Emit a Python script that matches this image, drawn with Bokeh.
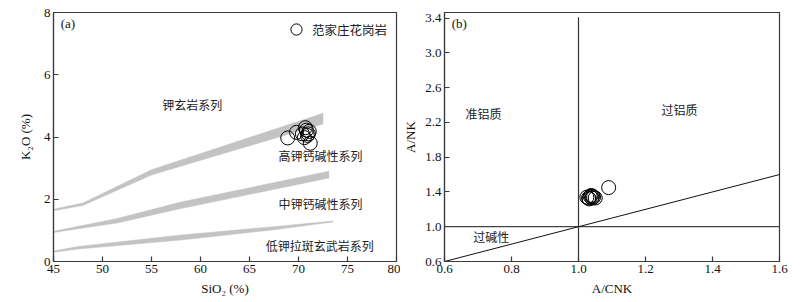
from bokeh.plotting import figure
from bokeh.layouts import row
from bokeh.models import Label, Legend, LegendItem, Range1d, FixedTicker, NumeralTickFormatter
from bokeh.embed import file_html
from bokeh.resources import INLINE

# ---------------- data: panel (a) SiO2 - K2O ----------------
band_sho_x = [45, 48, 55, 72.5]
band_sho_upper = [1.68, 1.88, 2.95, 4.76]
band_sho_lower = [1.63, 1.80, 2.78, 4.42]

band_hk_x = [45, 51.5, 58, 73.1]
band_hk_upper = [0.97, 1.38, 1.91, 2.90]
band_hk_lower = [0.93, 1.24, 1.70, 2.68]

band_mk_x = [45, 47.5, 58, 67.5, 73.5]
band_mk_upper = [0.34, 0.48, 0.85, 1.12, 1.30]
band_mk_lower = [0.30, 0.40, 0.69, 1.02, 1.27]

sio2 = [68.9, 69.8, 70.4, 70.7, 70.9, 71.1, 70.6, 71.2, 70.8, 71.0]
k2o = [3.97, 4.15, 4.10, 4.30, 4.05, 4.18, 3.98, 3.80, 4.22, 4.10]

series_labels_a = ["钾玄岩系列", "高钾钙碱性系列", "中钾钙碱性系列", "低钾拉斑玄武岩系列"]
legend_label = "范家庄花岗岩"

# ---------------- data: panel (b) A/CNK - A/NK ----------------
acnk = [1.025, 1.030, 1.035, 1.040, 1.045, 1.050, 1.038, 1.032, 1.042, 1.090]
anK = [1.34, 1.33, 1.35, 1.33, 1.34, 1.33, 1.36, 1.32, 1.35, 1.45]

vline_x = [1.0, 1.0]
vline_y = [0.6, 3.41]
hline_x = [0.6, 1.6]
hline_y = [1.0, 1.0]
diag_x = [0.6, 1.6]
diag_y = [0.6, 1.6]

region_labels_b = ["准铝质", "过铝质", "过碱性"]

a_xticks = [45, 50, 55, 60, 65, 70, 75, 80]
a_yticks = [0, 2, 4, 6, 8]
b_xticks = [0.6, 0.8, 1.0, 1.2, 1.4, 1.6]
b_yticks = [0.6, 1.0, 1.4, 1.8, 2.2, 2.6, 3.0, 3.4]

SERIF = "Liberation Serif"
CJK = "Noto Sans CJK SC"
BAND = "#c3c3c3"
AX = "#3a3a3a"


def style(p):
    p.toolbar_location = None
    p.xgrid.visible = False
    p.ygrid.visible = False
    p.outline_line_color = AX
    p.outline_line_width = 1.2
    p.background_fill_color = "white"
    p.border_fill_color = "white"
    for ax in (p.xaxis[0], p.yaxis[0]):
        ax.axis_line_color = AX
        ax.axis_line_width = 1.2
        ax.major_tick_in = 5
        ax.major_tick_out = 0
        ax.major_tick_line_color = AX
        ax.major_tick_line_width = 1.2
        ax.minor_tick_line_color = None
        ax.major_label_text_font = SERIF
        ax.major_label_text_font_size = "13px"
        ax.major_label_text_color = "#111111"
        ax.axis_label_text_font = SERIF
        ax.axis_label_text_font_size = "13px"
        ax.axis_label_text_font_style = "normal"
        ax.axis_label_text_color = "#111111"
    p.xaxis[0].major_label_standoff = 3
    p.yaxis[0].major_label_standoff = 3
    p.xaxis[0].axis_label_standoff = 5
    p.yaxis[0].axis_label_standoff = 8


# ---------------- panel (a) ----------------
pa = figure(width=400, height=298, output_backend="svg", toolbar_location=None,
            x_range=Range1d(45, 80), y_range=Range1d(0, 8),
            min_border_left=53, min_border_right=4, min_border_top=12, min_border_bottom=35)
style(pa)
pa.xaxis.ticker = FixedTicker(ticks=a_xticks)
pa.yaxis.ticker = FixedTicker(ticks=a_yticks)
pa.xaxis.axis_label = "SiO₂ (%)"
pa.yaxis.axis_label = "K₂O (%)"

for bx, up, lo in ((band_sho_x, band_sho_upper, band_sho_lower),
                   (band_hk_x, band_hk_upper, band_hk_lower),
                   (band_mk_x, band_mk_upper, band_mk_lower)):
    pa.patch(bx + bx[::-1], up + lo[::-1], fill_color=BAND, line_color=BAND, line_width=0.5)

ra = pa.scatter(sio2, k2o, marker="circle", size=14, fill_color=None,
                line_color="black", line_width=1)

lab_pos_a = [(56.1, 5.04), (67.96, 3.42), (67.96, 1.86), (66.66, 0.52)]
for t, (lx, ly) in zip(series_labels_a, lab_pos_a):
    pa.add_layout(Label(x=lx, y=ly, text=t, text_font=CJK, text_font_size="12px",
                        text_color="#222222", text_baseline="middle", text_align="left"))
pa.add_layout(Label(x=45.74, y=7.65, text="(a)", text_font=SERIF, text_font_size="13px",
                    text_color="#111111", text_baseline="middle"))

leg = Legend(items=[LegendItem(label=legend_label, renderers=[ra])], location="top_right",
             border_line_alpha=0, background_fill_alpha=0, margin=0, padding=3,
             label_text_font=CJK, label_text_font_size="12.5px", label_text_color="#222222",
             glyph_width=28, glyph_height=28, label_standoff=2, label_width=81)
pa.add_layout(leg)

# ---------------- panel (b) ----------------
pb = figure(width=389, height=298, output_backend="svg", toolbar_location=None,
            x_range=Range1d(0.6, 1.6), y_range=Range1d(0.6, 3.464),
            min_border_left=42, min_border_right=10, min_border_top=12, min_border_bottom=34)
style(pb)
pb.yaxis[0].axis_label_standoff = 4
pb.xaxis.ticker = FixedTicker(ticks=b_xticks)
pb.yaxis.ticker = FixedTicker(ticks=b_yticks)
pb.xaxis.formatter = NumeralTickFormatter(format="0.0")
pb.yaxis.formatter = NumeralTickFormatter(format="0.0")
pb.xaxis.axis_label = "A/CNK"
pb.yaxis.axis_label = "A/NK"

pb.line(vline_x, vline_y, line_color="#333333", line_width=1.2)
pb.line(hline_x, hline_y, line_color="#444444", line_width=1.2)
pb.line(diag_x, diag_y, line_color="#111111", line_width=1)
pb.scatter(acnk, anK, marker="circle", size=14, fill_color=None, line_color="black", line_width=1)

lab_pos_b = [(0.663, 2.297), (1.248, 2.353), (0.686, 0.884)]
for t, (lx, ly) in zip(region_labels_b, lab_pos_b):
    pb.add_layout(Label(x=lx, y=ly, text=t, text_font=CJK, text_font_size="12px",
                        text_color="#222222", text_baseline="middle", text_align="left"))
pb.add_layout(Label(x=0.6217, y=3.342, text="(b)", text_font=SERIF, text_font_size="13px",
                    text_color="#111111", text_baseline="middle"))

layout = row(pa, pb)
open("out.html", "w").write(file_html(layout, INLINE))
